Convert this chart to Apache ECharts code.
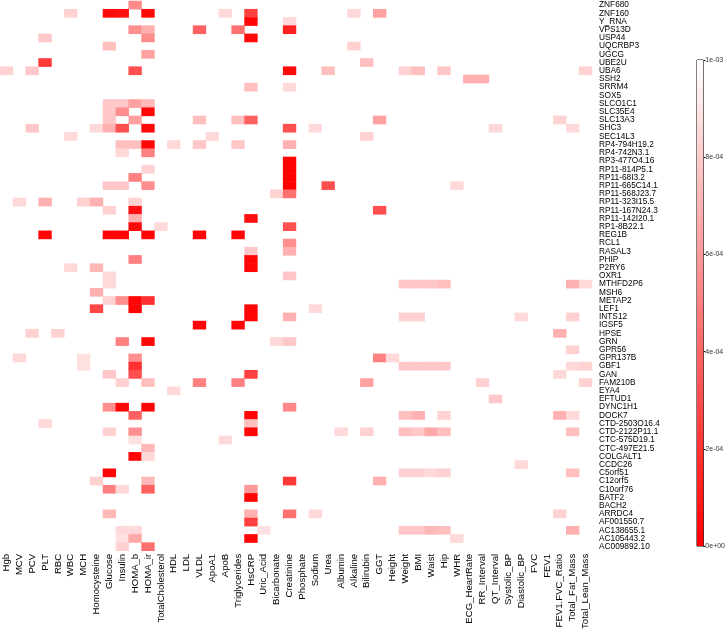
<!DOCTYPE html>
<html>
<head>
<meta charset="utf-8">
<script src="https://cdn.jsdelivr.net/npm/echarts@6/dist/echarts.min.js"></script>
<style>html,body{margin:0;padding:0;background:#fff}#c{width:728px;height:632px}</style>
</head>
<body>
<div id="c"></div>
<script>
const traits = ['Hgb','MCV','PCV','PLT','RBC','WBC','MCH','Homocysteine','Glucose','Insulin','HOMA_b','HOMA_ir','TotalCholesterol','HDL','LDL','VLDL','ApoA1','ApoB','Triglycerides','HsCRP','Uric_Acid','Bicarbonate','Creatinine','Phosphate','Sodium','Urea','Albumin','Alkaline','Bilirubin','GGT','Height','Weight','BMI','Waist','Hip','WHR','ECG_HeartRate','RR_Interval','QT_Interval','Systolic_BP','Diastolic_BP','FVC','FEV1','FEV1.FVC_Ratio','Total_Fat_Mass','Total_Lean_Mass'];

const genes = ['ZNF680','ZNF160','Y_RNA','VPS13D','USP44','UQCRBP3','UGCG','UBE2U','UBA6','SSH2','SRRM4','SOX5','SLCO1C1','SLC35E4','SLC13A3','SHC3','SEC14L3','RP4-794H19.2','RP4-742N3.1','RP3-477O4.16','RP11-814P5.1','RP11-68I3.2','RP11-665C14.1','RP11-568J23.7','RP11-323I15.5','RP11-167N24.3','RP11-142I20.1','RP1-8B22.1','REG1B','RCL1','RASAL3','PHIP','P2RY6','OXR1','MTHFD2P6','MSH6','METAP2','LEF1','INTS12','IGSF5','HPSE','GRN','GPR56','GPR137B','GBF1','GAN','FAM210B','EYA4','EFTUD1','DYNC1H1','DOCK7','CTD-2503O16.4','CTD-2122P11.1','CTC-575D19.1','CTC-497E21.5','COLGALT1','CCDC26','C5orf51','C12orf5','C10orf76','BATF2','BACH2','ARRDC4','AF001550.7','AC138655.1','AC105443.2','AC009892.10'];

const scaleTicks = [0, 0.0002, 0.0004, 0.0006, 0.0008, 0.001];

// [trait, gene, p-value]
const pValues = [
['HOMA_b','ZNF680',5.4e-4],
['WBC','ZNF160',8.2e-4],['Glucose','ZNF160',0.4e-4],['Insulin','ZNF160',0.6e-4],['HOMA_ir','ZNF160',0.3e-4],['ApoB','ZNF160',8.5e-4],['HsCRP','ZNF160',2.5e-4],['Alkaline','ZNF160',8.5e-4],['GGT','ZNF160',6.3e-4],
['HsCRP','Y_RNA',0.2e-4],['Creatinine','Y_RNA',8.5e-4],
['HOMA_b','VPS13D',5.6e-4],['HOMA_ir','VPS13D',6.9e-4],['VLDL','VPS13D',3.8e-4],['Triglycerides','VPS13D',4.4e-4],['Creatinine','VPS13D',1.3e-4],
['PLT','USP44',7.8e-4],['HOMA_ir','USP44',5.6e-4],['HsCRP','USP44',0.3e-4],
['Glucose','UQCRBP3',7.5e-4],['Alkaline','UQCRBP3',8.2e-4],
['HOMA_ir','UGCG',6.3e-4],
['PLT','UBE2U',2.2e-4],['Bilirubin','UBE2U',7.5e-4],
['Hgb','UBA6',8.2e-4],['PCV','UBA6',7.8e-4],['HOMA_b','UBA6',3.1e-4],['Creatinine','UBA6',0.4e-4],['Urea','UBA6',7.5e-4],['Weight','UBA6',8.2e-4],['BMI','UBA6',7.5e-4],['Hip','UBA6',7.8e-4],['Total_Lean_Mass','UBA6',8.2e-4],
['ECG_HeartRate','SSH2',6.9e-4],['RR_Interval','SSH2',6.9e-4],
['HsCRP','SRRM4',7.5e-4],['Creatinine','SRRM4',8.5e-4],
['Glucose','SLCO1C1',7.8e-4],['Insulin','SLCO1C1',7.8e-4],['HOMA_b','SLCO1C1',6.3e-4],['HOMA_ir','SLCO1C1',7.2e-4],
['Glucose','SLC35E4',7.8e-4],['Insulin','SLC35E4',5.6e-4],['HOMA_ir','SLC35E4',0.3e-4],
['Glucose','SLC13A3',7.8e-4],['HOMA_b','SLC13A3',6.3e-4],['VLDL','SLC13A3',7.5e-4],['Triglycerides','SLC13A3',7.5e-4],['HsCRP','SLC13A3',3.8e-4],['GGT','SLC13A3',6.3e-4],['FEV1.FVC_Ratio','SLC13A3',8.2e-4],
['PCV','SHC3',7.8e-4],['Homocysteine','SHC3',8.5e-4],['Glucose','SHC3',6.9e-4],['Insulin','SHC3',3.1e-4],['HOMA_ir','SHC3',0.3e-4],['Creatinine','SHC3',3.1e-4],['Sodium','SHC3',8.5e-4],['QT_Interval','SHC3',8.5e-4],['Total_Fat_Mass','SHC3',8.5e-4],
['WBC','SEC14L3',8.5e-4],['ApoA1','SEC14L3',8.5e-4],['Bilirubin','SEC14L3',8.2e-4],
['Insulin','RP4-794H19.2',7.5e-4],['HOMA_b','RP4-794H19.2',7.5e-4],['HOMA_ir','RP4-794H19.2',0.3e-4],['HDL','RP4-794H19.2',8.5e-4],['VLDL','RP4-794H19.2',7.8e-4],['Triglycerides','RP4-794H19.2',7.8e-4],['Creatinine','RP4-794H19.2',6.9e-4],
['Insulin','RP4-742N3.1',8.5e-4],['HOMA_ir','RP4-742N3.1',5.0e-4],
['Creatinine','RP3-477O4.16',0.1e-4],
['HOMA_ir','RP11-814P5.1',8.2e-4],['Creatinine','RP11-814P5.1',0.1e-4],
['HOMA_b','RP11-68I3.2',5.0e-4],['Creatinine','RP11-68I3.2',0.1e-4],
['Glucose','RP11-665C14.1',7.8e-4],['Insulin','RP11-665C14.1',7.8e-4],['HOMA_ir','RP11-665C14.1',5.6e-4],['Creatinine','RP11-665C14.1',0.1e-4],['Urea','RP11-665C14.1',3.1e-4],['WHR','RP11-665C14.1',8.5e-4],
['Bicarbonate','RP11-568J23.7',8.2e-4],['Creatinine','RP11-568J23.7',4.4e-4],
['MCV','RP11-323I15.5',8.5e-4],['PLT','RP11-323I15.5',6.9e-4],['MCH','RP11-323I15.5',8.2e-4],['Homocysteine','RP11-323I15.5',6.9e-4],['HOMA_b','RP11-323I15.5',8.2e-4],
['Glucose','RP11-167N24.3',8.2e-4],['HOMA_b','RP11-167N24.3',0.6e-4],['GGT','RP11-167N24.3',3.1e-4],
['HOMA_b','RP11-142I20.1',6.9e-4],['HsCRP','RP11-142I20.1',0.6e-4],
['HOMA_b','RP1-8B22.1',0.3e-4],['TotalCholesterol','RP1-8B22.1',8.5e-4],['Creatinine','RP1-8B22.1',3.1e-4],
['PLT','REG1B',0.2e-4],['Glucose','REG1B',0.2e-4],['Insulin','REG1B',0.2e-4],['HOMA_ir','REG1B',0.2e-4],['VLDL','REG1B',0.2e-4],['Triglycerides','REG1B',0.2e-4],
['Creatinine','RCL1',5.6e-4],
['HsCRP','RASAL3',7.8e-4],['Creatinine','RASAL3',6.9e-4],
['HOMA_b','PHIP',5.0e-4],['HsCRP','PHIP',0.2e-4],
['WBC','P2RY6',8.5e-4],['Homocysteine','P2RY6',7.2e-4],['HsCRP','P2RY6',0.2e-4],
['Glucose','OXR1',8.5e-4],['Creatinine','OXR1',7.8e-4],
['Glucose','MTHFD2P6',8.5e-4],['Weight','MTHFD2P6',7.8e-4],['BMI','MTHFD2P6',7.8e-4],['Waist','MTHFD2P6',7.8e-4],['Hip','MTHFD2P6',7.5e-4],['Total_Fat_Mass','MTHFD2P6',6.9e-4],['Total_Lean_Mass','MTHFD2P6',8.5e-4],
['Homocysteine','MSH6',6.9e-4],
['Glucose','METAP2',8.2e-4],['Insulin','METAP2',5.6e-4],['HOMA_b','METAP2',0.2e-4],['HOMA_ir','METAP2',1.9e-4],
['Homocysteine','LEF1',2.8e-4],['HOMA_b','LEF1',0.2e-4],['HsCRP','LEF1',0.2e-4],['Sodium','LEF1',8.5e-4],
['HsCRP','INTS12',0.2e-4],['Creatinine','INTS12',6.9e-4],['Weight','INTS12',8.2e-4],['BMI','INTS12',8.2e-4],['Diastolic_BP','INTS12',8.5e-4],['Total_Fat_Mass','INTS12',8.2e-4],
['VLDL','IGSF5',0.2e-4],['Triglycerides','IGSF5',0.2e-4],
['PCV','HPSE',8.2e-4],['RBC','HPSE',8.2e-4],['FEV1.FVC_Ratio','HPSE',6.9e-4],
['Insulin','GRN',5.0e-4],['HOMA_ir','GRN',0.3e-4],['Bicarbonate','GRN',8.5e-4],['Creatinine','GRN',7.8e-4],
['Total_Fat_Mass','GPR56',8.2e-4],
['MCV','GPR137B',8.5e-4],['MCH','GPR137B',8.8e-4],['HOMA_b','GPR137B',5.6e-4],['GGT','GPR137B',5.0e-4],['Height','GPR137B',8.5e-4],
['MCH','GBF1',8.8e-4],['HOMA_b','GBF1',1.9e-4],['Weight','GBF1',7.8e-4],['BMI','GBF1',7.8e-4],['Waist','GBF1',7.8e-4],['Hip','GBF1',7.8e-4],['Total_Fat_Mass','GBF1',8.5e-4],['Total_Lean_Mass','GBF1',8.2e-4],
['Glucose','GAN',7.8e-4],['HOMA_b','GAN',3.1e-4],['HsCRP','GAN',2.5e-4],['FEV1.FVC_Ratio','GAN',8.5e-4],
['Insulin','FAM210B',8.2e-4],['HOMA_ir','FAM210B',7.5e-4],['VLDL','FAM210B',5.0e-4],['Triglycerides','FAM210B',5.0e-4],['Bilirubin','FAM210B',6.3e-4],['RR_Interval','FAM210B',8.2e-4],['Total_Lean_Mass','FAM210B',8.2e-4],
['HDL','EYA4',8.5e-4],
['QT_Interval','EFTUD1',7.8e-4],
['Glucose','DYNC1H1',5.6e-4],['Insulin','DYNC1H1',0.2e-4],['HOMA_ir','DYNC1H1',0.2e-4],['Creatinine','DYNC1H1',5.3e-4],
['HOMA_b','DOCK7',3.8e-4],['HsCRP','DOCK7',0.2e-4],['Weight','DOCK7',7.5e-4],['BMI','DOCK7',6.9e-4],['Hip','DOCK7',8.2e-4],['FEV1.FVC_Ratio','DOCK7',6.9e-4],['Total_Fat_Mass','DOCK7',8.5e-4],
['PLT','CTD-2503O16.4',8.5e-4],['HsCRP','CTD-2503O16.4',7.5e-4],
['Glucose','CTD-2122P11.1',8.2e-4],['HOMA_b','CTD-2122P11.1',5.6e-4],['HsCRP','CTD-2122P11.1',0.2e-4],['Albumin','CTD-2122P11.1',8.5e-4],['Bilirubin','CTD-2122P11.1',8.2e-4],['Weight','CTD-2122P11.1',7.5e-4],['BMI','CTD-2122P11.1',7.8e-4],['Waist','CTD-2122P11.1',6.6e-4],['Hip','CTD-2122P11.1',7.5e-4],['Total_Fat_Mass','CTD-2122P11.1',7.5e-4],
['HOMA_b','CTC-575D19.1',8.8e-4],['ApoB','CTC-575D19.1',8.5e-4],
['HOMA_ir','CTC-497E21.5',7.2e-4],
['HOMA_b','COLGALT1',0.2e-4],['HOMA_ir','COLGALT1',8.5e-4],
['Diastolic_BP','CCDC26',8.5e-4],
['Glucose','C5orf51',0.2e-4],['Weight','C5orf51',8.2e-4],['BMI','C5orf51',8.2e-4],['Waist','C5orf51',8.5e-4],['Hip','C5orf51',8.2e-4],['Total_Fat_Mass','C5orf51',7.5e-4],
['Homocysteine','C12orf5',8.2e-4],['HOMA_ir','C12orf5',7.2e-4],['Creatinine','C12orf5',2.2e-4],['GGT','C12orf5',6.9e-4],
['Glucose','C10orf76',5.0e-4],['Insulin','C10orf76',8.5e-4],['HOMA_ir','C10orf76',3.8e-4],['HsCRP','C10orf76',6.0e-4],
['HsCRP','BATF2',0.2e-4],
['Glucose','ARRDC4',7.2e-4],['HsCRP','ARRDC4',6.9e-4],['Creatinine','ARRDC4',4.4e-4],['Sodium','ARRDC4',8.5e-4],['FEV1.FVC_Ratio','ARRDC4',8.2e-4],
['HsCRP','AF001550.7',2.5e-4],
['Insulin','AC138655.1',8.5e-4],['HOMA_b','AC138655.1',8.5e-4],['Uric_Acid','AC138655.1',8.8e-4],['Weight','AC138655.1',7.8e-4],['BMI','AC138655.1',7.8e-4],['Waist','AC138655.1',7.2e-4],['Hip','AC138655.1',7.5e-4],['Total_Fat_Mass','AC138655.1',6.9e-4],
['Insulin','AC105443.2',8.8e-4],['HOMA_b','AC105443.2',6.6e-4],['HsCRP','AC105443.2',0.2e-4],['WHR','AC105443.2',8.5e-4],
['Insulin','AC009892.10',8.2e-4],['HOMA_ir','AC009892.10',4.4e-4]
];

const heatData = pValues.map(d => [traits.indexOf(d[0]), genes.indexOf(d[1]), d[2]]);
const FONT = 'Liberation Sans, Arial, sans-serif';
function sci(v){
  if (v === 0) return '0e+00';
  const e = Math.floor(Math.log10(v) + 1e-9);
  const m = Math.round(v / Math.pow(10, e));
  const s = e < 0 ? '-' : '+';
  const a = Math.abs(e);
  return m + 'e' + s + (a < 10 ? '0' + a : a);
}

const chart = echarts.init(document.getElementById('c'), null, {renderer: 'canvas'});
chart.setOption({
  backgroundColor: '#ffffff',
  animation: false,
  grid: [
    {left: 0, top: 1, width: 592, height: 551},
    {left: 697, top: 60, width: 11, height: 486, show: true, borderColor: '#000', borderWidth: 1, backgroundColor: 'transparent'}
  ],
  xAxis: [
    {type: 'category', gridIndex: 0, data: traits, position: 'bottom',
     axisLine: {show: false}, axisTick: {show: false}, splitLine: {show: false},
     axisLabel: {rotate: 90, interval: 0, margin: 3, fontSize: 9.6, color: '#000', fontFamily: FONT}},
    {type: 'category', gridIndex: 1, data: ['p'], show: false}
  ],
  yAxis: [
    {type: 'category', gridIndex: 0, data: genes, inverse: true, position: 'right',
     axisLine: {show: false}, axisTick: {show: false}, splitLine: {show: false},
     axisLabel: {interval: 0, margin: 7, fontSize: 8.3, color: '#000', fontFamily: FONT}},
    {type: 'value', gridIndex: 1, min: scaleTicks[0], max: scaleTicks[scaleTicks.length - 1], interval: 0.0002, position: 'right',
     axisLine: {show: false}, splitLine: {show: false},
     axisTick: {show: true, length: 2, lineStyle: {color: '#000', width: 1}},
     axisLabel: {margin: 2, fontSize: 7, color: '#333', fontFamily: FONT, formatter: v => sci(v)}}
  ],
  visualMap: {show: false, type: 'continuous', seriesIndex: 0, min: 0, max: 0.001, dimension: 2,
    inRange: {color: ['#ff0000', '#ffffff']}},
  series: [
    {type: 'heatmap', xAxisIndex: 0, yAxisIndex: 0, data: heatData, itemStyle: {borderWidth: 0},
     emphasis: {disabled: true}, progressive: 0},
    {type: 'bar', xAxisIndex: 1, yAxisIndex: 1, data: [scaleTicks[scaleTicks.length - 1]], barWidth: '100%', silent: true,
     itemStyle: {color: new echarts.graphic.LinearGradient(0, 0, 0, 1, [{offset: 0, color: '#ffffff'}, {offset: 1, color: '#ff0000'}])}}
  ]
});
</script>
</body>
</html>
